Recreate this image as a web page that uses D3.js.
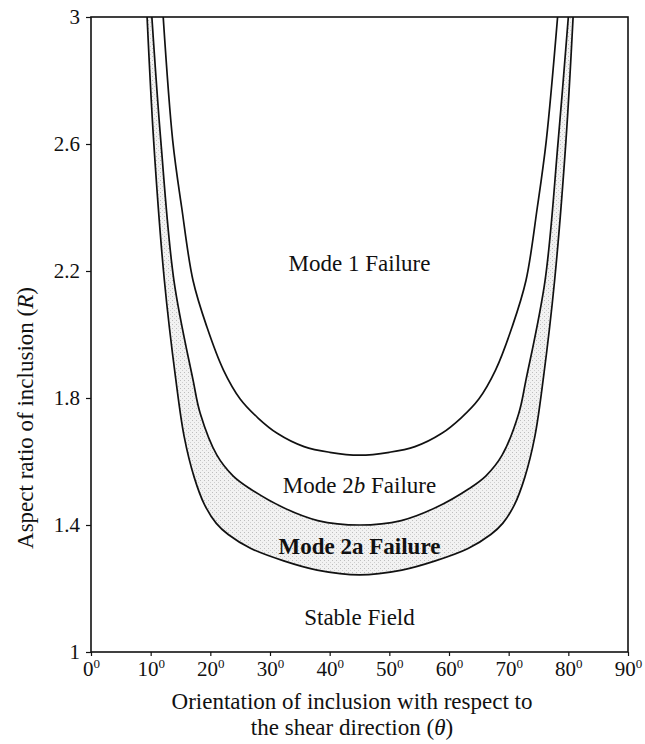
<!DOCTYPE html>
<html>
<head>
<meta charset="utf-8">
<script src="https://cdn.jsdelivr.net/npm/d3@7"></script>
<style>
  body { margin: 0; background: #fff; }
  svg { display: block; font-family: "Liberation Serif", "Times New Roman", serif; }
  .curve { fill: none; stroke: #111; stroke-width: 1.7; }
  .frame { fill: none; stroke: #111; stroke-width: 1.6; }
  .axis path { display: none; }
  .axis line { stroke: #111; stroke-width: 1.2; }
  .axis text { font-family: "Liberation Serif", serif; font-size: 21px; fill: #111; }
  .lbl { font-size: 23px; fill: #111; text-anchor: middle; }
</style>
</head>
<body>
<svg id="chart" width="645" height="744"></svg>
<script>
// boundary curves: theta (deg) and aspect ratio R
// lower edge of the mode 2a band
var theta2a = [9.4, 10.5, 12.3, 14.2, 15.6, 17.3, 19.0, 21.0, 23.0, 26.8, 32.3, 37.9, 45.0,
               52.1, 57.7, 63.2, 67.0, 69.0, 71.0, 72.7, 74.4, 75.8, 77.7, 79.6, 80.8];
var r2a     = [3.0, 2.61, 2.17, 1.86, 1.68, 1.55, 1.465, 1.405, 1.37, 1.326, 1.287, 1.258, 1.243,
               1.258, 1.287, 1.326, 1.37, 1.405, 1.465, 1.55, 1.68, 1.86, 2.17, 2.61, 3.0];

// mode 2a / mode 2b boundary
var theta2b = [10.2, 11.7, 13.9, 17.1, 18.3, 21.1, 23.8, 26.6, 32.2, 38.0, 45.0,
               52.0, 57.8, 63.4, 66.2, 68.9, 71.7, 72.9, 76.1, 78.3, 80.0];
var r2b     = [3.0, 2.61, 2.17, 1.857, 1.752, 1.62, 1.555, 1.515, 1.455, 1.414, 1.40,
               1.414, 1.455, 1.515, 1.555, 1.62, 1.752, 1.857, 2.17, 2.61, 3.0];

// mode 2b / mode 1 boundary
var theta1 = [12.1, 13.7, 15.2, 17.1, 19.4, 22.2, 25.0, 28.0, 31.2, 35.7, 40.0, 45.0,
              50.0, 54.3, 58.8, 62.0, 65.0, 67.8, 70.6, 72.9, 74.8, 76.3, 78.2];
var r1     = [3.0, 2.61, 2.40, 2.17, 2.025, 1.888, 1.797, 1.737, 1.689, 1.647, 1.629, 1.62,
              1.629, 1.647, 1.689, 1.737, 1.797, 1.888, 2.025, 2.17, 2.40, 2.61, 3.0];

var xTicks = [0, 10, 20, 30, 40, 50, 60, 70, 80, 90];
var yTicks = [1, 1.4, 1.8, 2.2, 2.6, 3];

var regionLabels = ["Mode 1 Failure", "Mode 2b Failure", "Mode 2a Failure", "Stable Field"];
var regionAt = [[45, 2.2], [45, 1.5], [45, 1.31], [45, 1.085]];

var svg = d3.select('#chart');
var x = d3.scaleLinear().domain([0, 90]).range([91, 628]);
var y = d3.scaleLinear().domain([1, 3]).range([652, 17]);

function pts(t, r) { return t.map(function(d, i) { return [d, r[i]]; }); }

var line = d3.line()
    .x(function(d) { return x(d[0]); })
    .y(function(d) { return y(d[1]); })
    .curve(d3.curveCatmullRom.alpha(0.5));

// stipple pattern for the mode 2a band
var defs = svg.append('defs');
var pat = defs.append('pattern').attr('id', 'stip')
    .attr('width', 4).attr('height', 4).attr('patternUnits', 'userSpaceOnUse');
pat.append('rect').attr('width', 4).attr('height', 4).attr('fill', '#f2f2f2');
pat.append('rect').attr('x', 0).attr('y', 0).attr('width', 1).attr('height', 1).attr('fill', '#bdbdbd');
pat.append('rect').attr('x', 2).attr('y', 2).attr('width', 1).attr('height', 1).attr('fill', '#cfcfcf');

defs.append('clipPath').attr('id', 'plotclip').append('rect')
    .attr('x', x(0)).attr('y', y(3)).attr('width', x(90) - x(0)).attr('height', y(1) - y(3));

var plot = svg.append('g').attr('clip-path', 'url(#plotclip)');

var lowPts = pts(theta2a, r2a), midPts = pts(theta2b, r2b), upPts = pts(theta1, r1);
var band = line(lowPts) + line(midPts.slice().reverse()).replace(/^M/, 'L') + 'Z';
plot.append('path').attr('d', band).attr('fill', 'url(#stip)').attr('stroke', 'none');

[lowPts, midPts, upPts].forEach(function(p) {
    plot.append('path').attr('class', 'curve').attr('d', line(p));
});

// frame
svg.append('rect').attr('class', 'frame')
    .attr('x', x(0)).attr('y', y(3)).attr('width', x(90) - x(0)).attr('height', y(1) - y(3));

// axes
svg.append('g').attr('class', 'axis')
    .attr('transform', 'translate(' + x(0) + ',0)')
    .call(d3.axisLeft(y).tickValues(yTicks).tickSize(5).tickPadding(6)
        .tickFormat(function(d) { return String(d); }));

var xa = svg.append('g').attr('class', 'axis')
    .attr('transform', 'translate(0,' + y(1) + ')')
    .call(d3.axisBottom(x).tickValues(xTicks).tickSize(4).tickPadding(5).tickFormat(''));
xa.selectAll('.tick').each(function(d) {
    var t = d3.select(this).append('text').attr('y', 24).attr('text-anchor', 'middle');
    t.append('tspan').text(d);
    t.append('tspan').attr('font-size', '13px').attr('dy', '-8').text('0');
});

// region labels
svg.selectAll('.region').data(regionLabels).enter().append('text')
    .attr('class', 'lbl region')
    .attr('x', function(d, i) { return x(regionAt[i][0]); })
    .attr('y', function(d, i) { return y(regionAt[i][1]); })
    .attr('font-weight', function(d, i) { return i === 2 ? 'bold' : null; })
    .each(function(d) {
        var t = d3.select(this);
        if (d === 'Mode 2b Failure') {
            t.append('tspan').text('Mode 2');
            t.append('tspan').attr('font-style', 'italic').text('b');
            t.append('tspan').text(' Failure');
        } else {
            t.text(d);
        }
    });

// axis titles
var xt = svg.append('text').attr('class', 'lbl');
xt.append('tspan').attr('x', 352).attr('y', 709).text('Orientation of inclusion with respect to');
var l2 = xt.append('tspan').attr('x', 352).attr('y', 735);
l2.append('tspan').text('the shear direction (');
l2.append('tspan').attr('font-style', 'italic').text('θ');
l2.append('tspan').text(')');

var yt = svg.append('text').attr('class', 'lbl')
    .attr('transform', 'translate(33,' + 418 + ') rotate(-90)');
yt.append('tspan').text('Aspect ratio of inclusion (');
yt.append('tspan').attr('font-style', 'italic').text('R');
yt.append('tspan').text(')');
</script>
</body>
</html>
